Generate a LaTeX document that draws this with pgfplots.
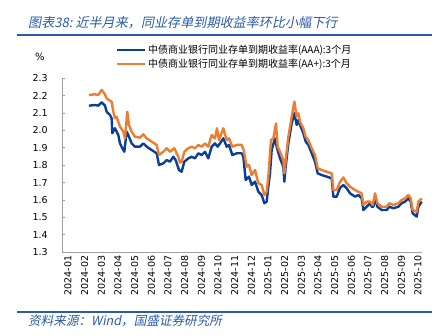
\documentclass[border=0pt]{standalone}
\usepackage{fontspec}
\usepackage{pgfplots}
\pgfplotsset{compat=1.18}
\usepackage{pgfplotstable}
\setmainfont{DejaVu Sans}
\newfontfamily\cjk{Noto Sans CJK SC}
\newfontfamily\cjkit[FakeSlant=0.2]{Noto Sans CJK SC}
\definecolor{serA}{HTML}{0A3F96}
\definecolor{serB}{HTML}{ED7D31}
\definecolor{ttl}{HTML}{2A5BA8}
\definecolor{axgray}{HTML}{A0A0A0}

\pgfplotstableread{
x y
1.56 2.143
1.92 2.146
2.12 2.143
2.32 2.162
2.52 2.143
2.62 2.108
2.82 2.089
2.92 2.070
2.96 1.984
3.12 2.013
3.32 1.974
3.42 1.926
3.56 1.898
3.68 1.878
3.82 1.993
3.92 1.974
4.12 1.926
4.32 1.907
4.62 1.907
4.82 1.926
5.02 1.907
5.32 1.888
5.62 1.869
5.76 1.802
6.02 1.811
6.22 1.830
6.42 1.821
6.62 1.849
6.76 1.830
6.96 1.773
7.12 1.763
7.28 1.821
7.52 1.840
7.72 1.849
7.92 1.840
8.12 1.869
8.32 1.859
8.52 1.878
8.72 1.840
8.92 1.907
9.12 1.926
9.28 1.907
9.42 1.926
9.62 1.955
9.82 1.907
9.96 1.917
10.16 1.859
10.42 1.869
10.72 1.869
10.82 1.849
10.96 1.716
11.16 1.735
11.32 1.687
11.52 1.706
11.72 1.648
11.92 1.629
12.08 1.582
12.22 1.591
12.32 1.677
12.42 1.754
12.52 1.888
12.72 1.955
12.82 1.907
13.02 1.840
13.22 1.792
13.28 1.706
13.36 1.792
13.52 1.926
13.72 2.041
13.88 2.099
14.02 2.032
14.12 2.060
14.22 2.032
14.42 1.984
14.56 1.936
14.72 1.917
14.92 1.869
15.12 1.821
15.28 1.754
15.52 1.744
15.82 1.735
16.12 1.725
16.22 1.620
16.42 1.620
16.62 1.670
16.82 1.687
17.02 1.668
17.22 1.639
17.52 1.620
17.72 1.629
17.92 1.610
18.02 1.543
18.22 1.562
18.42 1.582
18.52 1.562
18.62 1.562
18.72 1.610
18.86 1.562
19.12 1.543
19.42 1.543
19.58 1.562
19.82 1.553
20.12 1.562
20.32 1.582
20.52 1.591
20.72 1.610
20.86 1.591
20.98 1.524
21.22 1.505
21.32 1.562
21.52 1.591
}\tblA

\pgfplotstableread{
x y
1.56 2.204
1.92 2.208
2.12 2.204
2.32 2.233
2.48 2.214
2.62 2.185
2.76 2.175
2.92 2.166
3.02 2.108
3.12 2.070
3.22 2.079
3.42 2.022
3.62 1.993
3.72 1.955
3.86 2.108
3.96 2.032
4.12 1.993
4.32 1.964
4.62 1.959
4.82 1.978
5.02 1.955
5.32 1.936
5.62 1.917
5.76 1.859
6.02 1.878
6.22 1.898
6.42 1.878
6.68 1.898
6.92 1.849
7.02 1.815
7.12 1.821
7.28 1.878
7.52 1.898
7.72 1.907
7.92 1.898
8.12 1.917
8.32 1.907
8.52 1.926
8.72 1.907
8.92 1.974
9.12 1.955
9.24 2.013
9.36 1.945
9.62 2.013
9.82 1.945
9.96 1.955
10.16 1.907
10.42 1.917
10.72 1.917
10.84 1.888
11.02 1.792
11.16 1.802
11.32 1.744
11.52 1.773
11.72 1.697
11.92 1.687
12.08 1.629
12.22 1.648
12.32 1.735
12.48 1.945
12.62 1.955
12.78 2.041
12.88 1.907
13.02 1.878
13.22 1.830
13.28 1.754
13.36 1.830
13.52 1.964
13.72 2.079
13.88 2.166
14.02 2.079
14.12 2.099
14.22 2.051
14.42 2.013
14.56 1.964
14.72 1.945
14.92 1.898
15.12 1.859
15.28 1.783
15.52 1.773
15.82 1.763
16.12 1.754
16.22 1.658
16.42 1.658
16.62 1.705
16.82 1.730
17.02 1.697
17.22 1.677
17.52 1.658
17.72 1.648
17.92 1.639
18.02 1.572
18.22 1.591
18.42 1.591
18.58 1.572
18.72 1.639
18.86 1.582
19.12 1.562
19.42 1.562
19.58 1.582
19.82 1.572
20.12 1.582
20.32 1.601
20.52 1.610
20.72 1.629
20.86 1.610
20.98 1.543
21.22 1.533
21.32 1.591
21.52 1.610
}\tblB

\begin{document}
\begin{tikzpicture}
\useasboundingbox (0pt,0pt) rectangle (441pt,335pt);
% title
\node[anchor=west, inner sep=0pt, text=ttl, font=\cjkit\fontsize{13.1}{15}\selectfont] at (28pt,312.5pt) {图表38:\ 近半月来，同业存单到期收益率环比小幅下行};
\draw[ttl, line width=1.5pt] (17pt,300pt) -- (432pt,300pt);
\draw[ttl, line width=1.5pt] (17pt,23pt) -- (432pt,23pt);
\node[anchor=west, inner sep=0pt, text=ttl, font=\cjkit\fontsize{12.6}{14}\selectfont] at (28pt,14.3pt) {资料来源：Wind，国盛证券研究所};
\node[inner sep=0pt, font=\fontsize{10}{12}\selectfont] at (40pt,278pt) {\%};
\begin{axis}[
  at={(62.3pt,82.7pt)}, anchor=south west,
  scale only axis, width=359.4pt, height=174pt,
  xmin=-0.04, xmax=21.52, ymin=1.3, ymax=2.3,
  axis x line*=bottom, axis y line*=left,
  axis line style={axgray, line width=1.2pt, -},
  ytick={1.3,1.4,...,2.31},
  ytick align=inside, major tick length=3pt,
  ytick style={axgray, line width=1pt},
  xtick={0,...,21},
  xtick style={draw=none},
  xticklabels={2024-01,2024-02,2024-03,2024-04,2024-05,2024-06,2024-07,2024-08,2024-09,2024-10,2024-11,2024-12,2025-01,2025-02,2025-03,2025-04,2025-05,2025-06,2025-07,2025-08,2025-09,2025-10},
  xticklabel style={rotate=90, anchor=east, font=\fontsize{9.5}{11}\selectfont, yshift=-5pt},
  /pgf/number format/fixed, /pgf/number format/fixed zerofill, /pgf/number format/precision=1,
  /pgf/number format/assume math mode=true,
  yticklabel style={font=\fontsize{9.5}{11}\selectfont, xshift=-11pt},
  legend style={at={(0.148,1.195)}, anchor=north west, draw=none, fill=none, inner sep=0pt,
    font=\cjk\fontsize{10}{12}\selectfont, row sep=3.2pt,
    nodes={inner ysep=0.5pt, inner xsep=2pt}},
  legend cell align=left,
  legend image code/.code={\draw[#1, line width=2.4pt] (0pt,0pt) -- (28pt,0pt);},
  clip=false,
]
\addplot[serA, line width=2.4pt, line join=round] table[x=x,y=y] {\tblA};
\addlegendentry{中债商业银行同业存单到期收益率(AAA):3个月}
\addplot[serB, line width=2.4pt, line join=round] table[x=x,y=y] {\tblB};
\addlegendentry{中债商业银行同业存单到期收益率(AA+):3个月}
\end{axis}
\end{tikzpicture}
\end{document}
